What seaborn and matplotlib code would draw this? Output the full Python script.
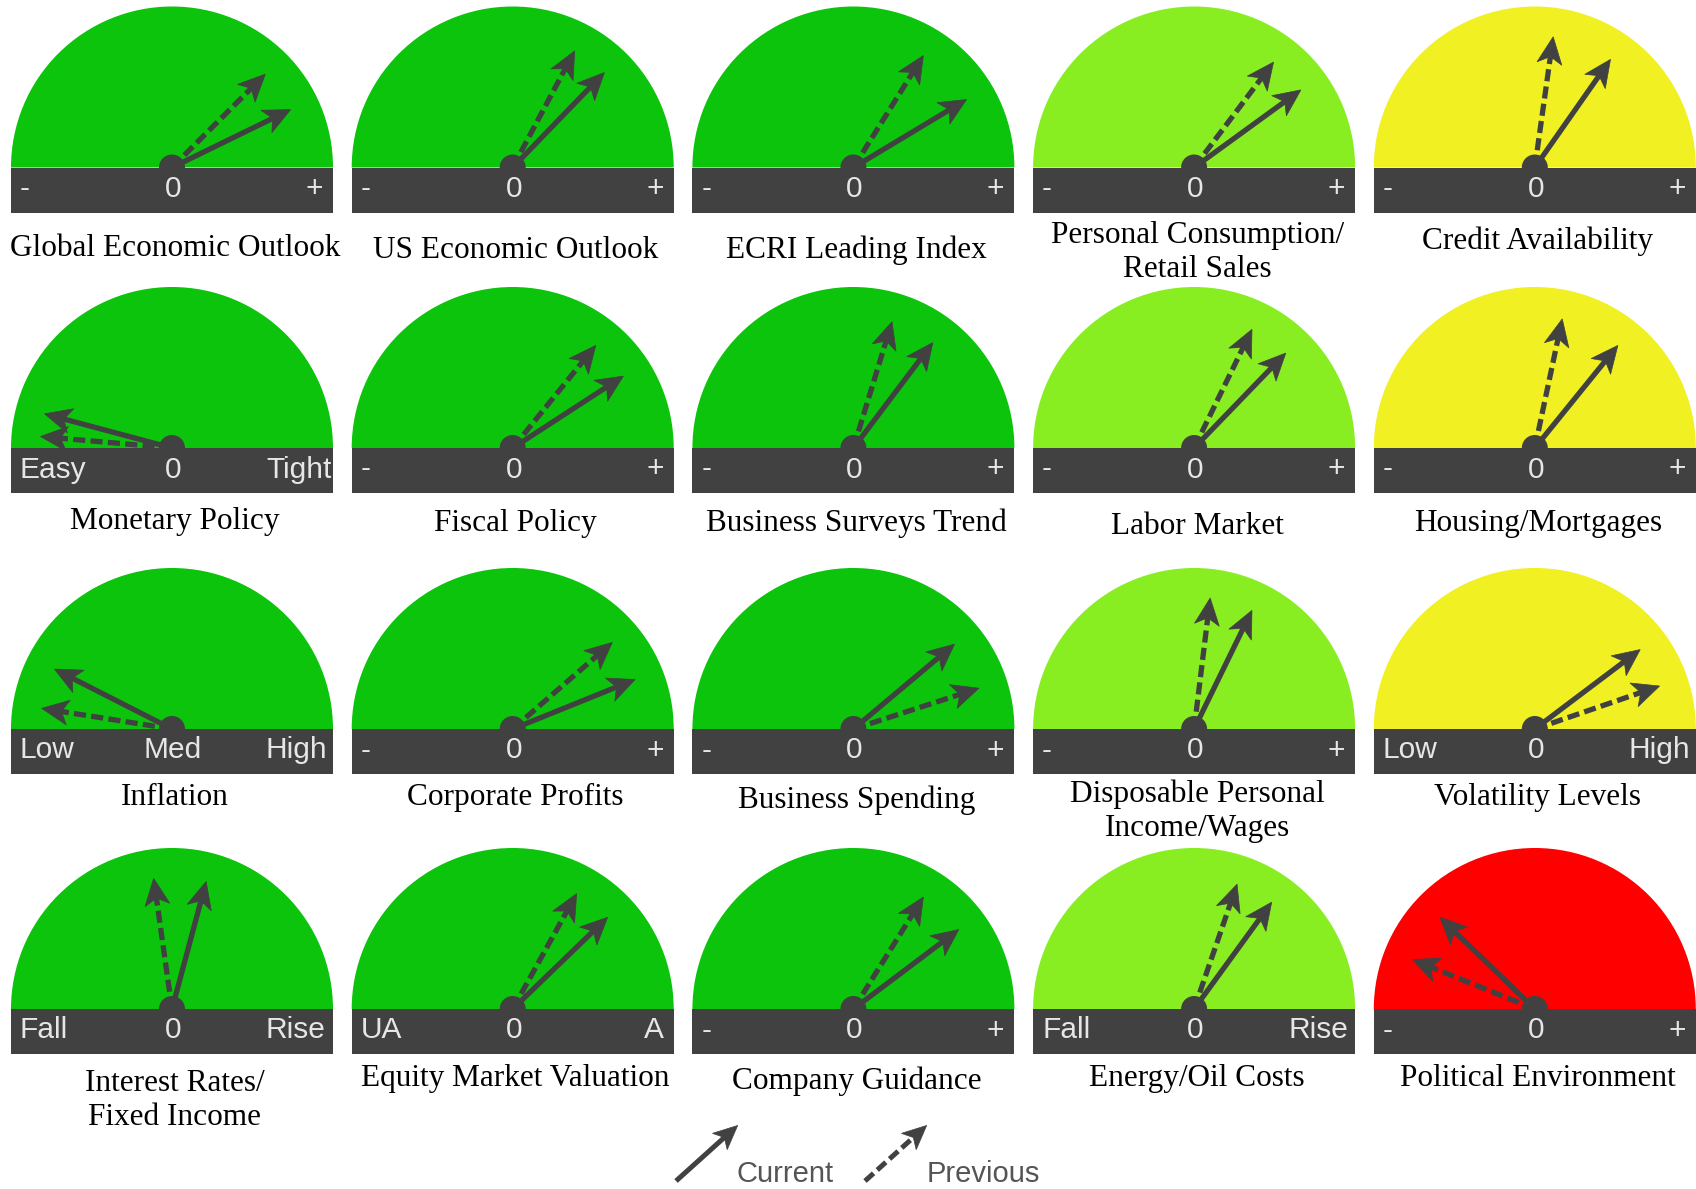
import numpy as np
import matplotlib
matplotlib.use("Agg")
import matplotlib.pyplot as plt
from matplotlib.patches import Wedge, Rectangle, Circle, Polygon
import seaborn as sns

# gauge data, read row by row (5 per row)
titles = [
    "Global Economic Outlook", "US Economic Outlook", "ECRI Leading Index",
    "Personal Consumption/\nRetail Sales", "Credit Availability",
    "Monetary Policy", "Fiscal Policy", "Business Surveys Trend",
    "Labor Market", "Housing/Mortgages",
    "Inflation", "Corporate Profits", "Business Spending",
    "Disposable Personal\nIncome/Wages", "Volatility Levels",
    "Interest Rates/\nFixed Income", "Equity Market Valuation", "Company Guidance",
    "Energy/Oil Costs", "Political Environment",
]
zones = [
    "green", "green", "green", "lime", "yellow",
    "green", "green", "green", "lime", "yellow",
    "green", "green", "green", "lime", "yellow",
    "green", "green", "green", "lime", "red",
]
left_tags = ["-", "-", "-", "-", "-",
             "Easy", "-", "-", "-", "-",
             "Low", "-", "-", "-", "Low",
             "Fall", "UA", "-", "Fall", "-"]
mid_tags = ["0", "0", "0", "0", "0",
            "0", "0", "0", "0", "0",
            "Med", "0", "0", "0", "0",
            "0", "0", "0", "0", "0"]
right_tags = ["+", "+", "+", "+", "+",
              "Tight", "+", "+", "+", "+",
              "High", "+", "+", "+", "High",
              "Rise", "A", "+", "Rise", "+"]
# needle angles in degrees (0 = far right / "+", 180 = far left / "-")
current_deg = [26, 46, 31, 36, 55,
               165, 33, 53, 46, 51,
               153, 22, 40, 64, 37,
               75, 44, 37, 54, 136]
previous_deg = [45, 62, 58, 53, 82,
                175, 51, 73, 64, 78,
                171, 41, 18, 83, 19,
                98, 61, 58, 71, 158]

zone_colors = {"green": "#0cc40c", "lime": "#88ee22", "yellow": "#f0f022", "red": "#ff0000"}
dark = "#404140"

# layout (pixels, y downwards)
W, H = 1696, 1189
col_x = [172 + 340.7 * j for j in range(5)]
row_bar = [167.5, 448, 729, 1009]
R = 161
bar_h = 45
needle_len = 132
# baseline of the last text line of each title
label_base = [256, 258, 258, 277, 249,
              529, 531, 531, 534, 531,
              805, 805, 808, 836, 805,
              1125, 1086, 1089, 1086, 1086]

sns.set_theme(style="white")
plt.rcParams["font.family"] = ["Liberation Sans", "DejaVu Sans"]

fig = plt.figure(figsize=(W / 100, H / 100), dpi=100)
ax = fig.add_axes([0, 0, 1, 1])
ax.set_xlim(0, W)
ax.set_ylim(H, 0)
ax.set_axis_off()

LW = 3.8  # points


def arrow(x0, y0, ang, length, dashed=False, hl=27, hw=12.5, notch=7, lw=LW):
    t = np.radians(ang)
    u = np.array([np.cos(t), -np.sin(t)])
    n = np.array([-u[1], u[0]])
    tip = np.array([x0, y0]) + length * u
    base = tip - (hl - notch) * u
    ls = (0, (2.3, 1.0)) if dashed else "-"
    ax.plot([x0, base[0]], [y0, base[1]], color=dark, lw=lw, ls=ls,
            solid_capstyle="butt", dash_capstyle="butt", zorder=5)
    head = [tip, tip - hl * u + hw * n, base, tip - hl * u - hw * n]
    ax.add_patch(Polygon(head, closed=True, facecolor=dark, edgecolor=dark, lw=0.5, zorder=6))


tag_kw = dict(color="#e6e6e6", fontsize=21.5, va="center", zorder=8)
for k in range(20):
    i, j = divmod(k, 5)
    cx, cy = col_x[j], row_bar[i]
    ax.add_patch(Wedge((cx, cy), R, 180, 360, facecolor=zone_colors[zones[k]],
                       edgecolor="none", zorder=1))
    bar = Rectangle((cx - R, cy), 2 * R, bar_h, facecolor=dark, edgecolor="none", zorder=2)
    ax.add_patch(bar)
    ty = cy + bar_h / 2 - 1
    ax.text(cx - R + 9, ty, left_tags[k], ha="left", **tag_kw)
    ax.text(cx + 1, ty, mid_tags[k], ha="center", **tag_kw)
    if len(right_tags[k]) == 1:
        ax.text(cx + R - 10, ty, right_tags[k], ha="right", **tag_kw)
    else:
        t = ax.text(cx + 94, ty, right_tags[k], ha="left", **tag_kw)
        t.set_clip_path(bar)
    arrow(cx, cy, previous_deg[k], needle_len, dashed=True)
    arrow(cx, cy, current_deg[k], needle_len)
    ax.add_patch(Circle((cx, cy), 13, facecolor=dark, edgecolor="none", zorder=4))
    ax.text(cx + 3, label_base[k], titles[k], family=["Liberation Serif", "DejaVu Serif"],
            fontsize=22.5, color="black", ha="center", va="baseline",
            linespacing=1.22, zorder=3)

# legend
arrow(676, 1181, 42, 83, hl=24, hw=11, notch=6, lw=3.6)
ax.text(736, 1174, "Current", color="#555555", fontsize=21, ha="left", va="center")
arrow(865, 1181, 42, 83, dashed=True, hl=24, hw=11, notch=6, lw=3.6)
ax.text(927, 1174, "Previous", color="#555555", fontsize=21, ha="left", va="center")

fig.savefig("out.png", dpi=100, facecolor="white")
